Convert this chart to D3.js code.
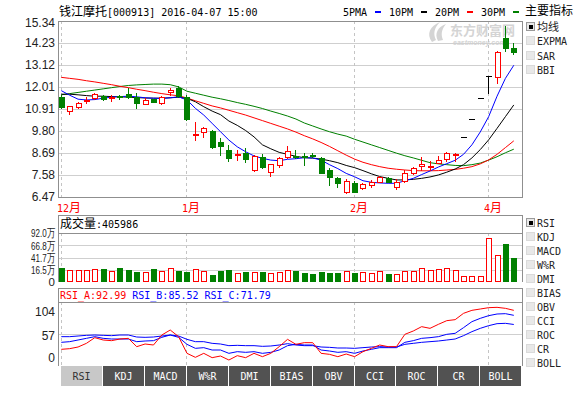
<!DOCTYPE html>
<html>
<head>
<meta charset="utf-8">
<script src="https://cdn.jsdelivr.net/npm/d3@7/dist/d3.min.js"></script>
<style>
html,body{margin:0;padding:0;background:#ffffff;}
svg{display:block;}
</style>
</head>
<body>
<svg id="chart" width="580" height="394"></svg>
<script>
// ---------------- data ----------------
const stockName = "钱江摩托";
const stockCode = "000913";
const stamp = "2016-04-07 15:00";
const dates = ["2015-12-11","2015-12-14","2015-12-15","2015-12-16","2015-12-17","2015-12-18","2015-12-21","2015-12-22","2015-12-23","2015-12-24","2015-12-25","2015-12-28","2015-12-29","2015-12-30","2015-12-31",
"2016-01-04","2016-01-05","2016-01-06","2016-01-07","2016-01-08","2016-01-11","2016-01-12","2016-01-13","2016-01-14","2016-01-15","2016-01-18","2016-01-19","2016-01-20","2016-01-21","2016-01-22","2016-01-25","2016-01-26","2016-01-27","2016-01-28","2016-01-29",
"2016-02-01","2016-02-02","2016-02-03","2016-02-04","2016-02-05","2016-02-15","2016-02-16","2016-02-17","2016-02-18","2016-02-19","2016-02-22","2016-02-23","2016-02-24",
"2016-03-29","2016-03-30","2016-03-31","2016-04-01","2016-04-05","2016-04-06","2016-04-07"];
const open  = [11.49,10.82,11.02,11.32,11.44,11.58,11.46,11.55,11.65,11.52,11.16,11.39,11.19,11.75,11.95,11.52,9.59,9.73,9.81,9.26,8.84,8.60,8.70,7.83,8.47,7.74,8.08,8.50,8.53,8.55,8.60,8.42,7.83,7.44,6.74,7.16,6.91,7.07,7.24,7.44,6.99,7.29,7.70,8.05,7.98,8.17,8.37,8.58,9.48,10.40,11.44,12.56,12.50,14.47,13.96];
const high  = [11.61,11.08,11.27,11.52,11.73,11.62,11.61,11.63,11.95,11.70,11.45,11.40,11.55,11.95,12.06,11.60,10.26,10.01,9.83,9.43,9.09,8.84,8.92,8.57,8.62,8.15,8.50,9.04,8.84,8.67,8.67,8.47,7.92,7.49,7.36,7.26,7.20,7.33,7.54,7.50,7.36,7.85,8.00,8.47,8.30,8.54,8.75,8.67,9.48,10.40,11.44,12.56,13.84,15.09,14.22];
const low   = [10.95,10.64,10.94,11.19,11.39,11.38,11.32,11.40,11.48,10.94,11.15,11.24,11.16,11.61,11.50,10.35,9.34,9.51,8.94,8.59,8.28,8.33,8.25,7.80,7.92,7.54,8.00,8.42,8.42,8.08,8.50,7.67,7.07,6.99,6.66,6.70,6.89,6.96,7.21,7.22,6.86,7.25,7.62,7.83,7.83,8.17,8.30,8.30,9.48,10.40,11.44,11.73,12.20,13.84,13.66];
const close = [11.02,11.06,11.19,11.37,11.66,11.41,11.50,11.50,11.52,11.19,11.36,11.26,11.52,11.86,11.56,10.40,9.67,9.96,8.97,9.04,8.42,8.65,8.37,8.54,7.97,8.13,8.45,8.79,8.48,8.52,8.58,7.70,7.49,7.16,7.29,6.74,7.12,7.24,7.49,7.24,7.21,7.70,7.92,8.12,8.03,8.33,8.67,8.62,9.48,10.40,11.44,12.56,13.79,13.96,13.79];
// volume in 万 shares
const volume = [21.7,17.1,17.1,17.1,19.7,19.1,15.7,21.1,17.1,13.0,13.7,19.1,15.1,21.1,15.1,13.7,18.5,15.1,7.0,15.1,17.1,11.6,13.7,13.7,13.7,10.4,13.7,17.1,15.7,11.6,9.0,13.7,11.6,11.6,15.1,11.6,12.4,10.4,15.1,9.0,8.4,15.1,15.7,20.5,17.1,19.1,20.5,17.1,5.0,5.0,5.0,81.3,47.5,69.7,40.6];
const ma5  = [11.83,11.60,11.40,11.36,11.38,11.45,11.50,11.53,11.55,11.52,11.47,11.45,11.44,11.47,11.52,11.36,10.94,10.60,10.18,9.76,9.34,9.00,8.75,8.54,8.42,8.33,8.30,8.37,8.40,8.45,8.44,8.33,8.10,7.90,7.66,7.49,7.29,7.21,7.18,7.16,7.16,7.29,7.41,7.60,7.78,7.98,8.15,8.32,8.62,9.10,9.75,10.52,11.55,12.45,13.11];
const ma10 = [11.65,11.65,11.62,11.58,11.55,11.55,11.53,11.52,11.50,11.48,11.46,11.45,11.45,11.47,11.50,11.44,11.27,11.02,10.80,10.62,10.30,10.08,9.82,9.50,9.10,8.90,8.72,8.62,8.52,8.45,8.43,8.38,8.30,8.20,8.06,7.95,7.80,7.64,7.50,7.41,7.33,7.33,7.36,7.41,7.48,7.58,7.72,7.88,8.10,8.44,8.86,9.35,9.93,10.52,11.11];
const ma20 = [12.50,12.45,12.40,12.33,12.27,12.20,12.13,12.05,11.98,11.90,11.83,11.75,11.68,11.62,11.57,11.46,11.32,11.19,11.06,10.96,10.84,10.72,10.60,10.46,10.32,10.18,10.04,9.90,9.74,9.56,9.40,9.22,9.02,8.80,8.58,8.38,8.22,8.10,8.00,7.92,7.87,7.83,7.80,7.79,7.79,7.80,7.83,7.86,7.92,8.00,8.14,8.34,8.62,8.96,9.30];
const ma30 = [11.62,11.68,11.74,11.80,11.86,11.92,11.98,12.04,12.09,12.12,12.14,12.16,12.16,12.13,12.02,11.80,11.70,11.60,11.50,11.42,11.33,11.23,11.14,11.04,10.93,10.80,10.68,10.55,10.40,10.20,10.05,9.90,9.76,9.64,9.54,9.38,9.24,9.10,8.96,8.82,8.68,8.55,8.44,8.32,8.20,8.14,8.10,8.06,8.05,8.10,8.18,8.33,8.50,8.70,8.88];
const rsiA = [34.5,35.5,38,43.5,52,48.5,47.5,50,51,38.5,42.5,41,56,63.5,53.5,28.5,22.5,28.5,22,24.5,18.5,25,22,28.5,23.5,28.5,38.5,49.5,42,44.5,44.5,28.5,27,23.5,27.5,23.5,31,36,41,38.5,38.5,57,62,68.5,66,72,77.5,79,88.5,93,95,97,97.5,96,92.99];
const rsiB = [45,46,48.5,51,53.5,51,50,50,50,46,47,47.5,52.5,56,52.5,42,36,37,33.5,33.5,28.5,31,30,31,28.5,30,33.5,40,42,41,41,33.5,32,30,31,28.5,32,34.5,37,37,37,45,47.5,51,52,53.5,57,58.5,67,76,81,85,87.5,88,85.52];
const rsiC = [53.5,53.5,54.5,55.5,56,55.5,55,56,56,53,52.5,53,54.5,56,54.5,49.5,46,46,43.5,42.5,40,40.5,40,40,39,39.5,41,43,41,40,40,38,37.5,36.5,36.5,36,37,38,38.5,38,38,42,43.5,45,46,47,48.5,50,55,61,66,70,73,73.5,71.79];
const lastVolume = 405986;
const priceTicks = [6.47, 7.58, 8.69, 9.80, 10.91, 12.01, 13.12, 14.23, 15.34];
const volTicks = [16.5, 41.7, 66.8, 92.0];
const volDomain = [-7.2, 92.0];
const rsiTicks = [0, 57, 104];
const rsiDomain = [11, 104];
const monthStarts = ["2015-12-11","2016-01-04","2016-02-01","2016-04-01"];
const monthLabels = ["12月","1月","2月","4月"];
const maLegend = ["5PMA","10PM","20PM","30PM"];
const mainIndicators = ["均线","EXPMA","SAR","BBI"];
const subIndicators = ["RSI","KDJ","MACD","W%R","DMI","BIAS","OBV","CCI","ROC","CR","BOLL"];
const tabs = ["RSI","KDJ","MACD","W%R","DMI","BIAS","OBV","CCI","ROC","CR","BOLL"];

// ---------------- style / layout ----------------
const MONO = "'DejaVu Sans Mono','Liberation Mono',monospace";
const CJK = "'Noto Sans CJK SC','Noto Sans',sans-serif";
const SANS = "'Liberation Sans',Arial,sans-serif";
const RED = "#ff0000", GREEN = "#008000", BLUE = "#0000ff", BLACK = "#000000";
const FRAME = "#8f8f8f", GRID = "#cfcfcf", DASH = "#c4c4c4";
const L = 58, R = 522;
const P = {top: 21, bot: 197};
const V = {top: 215, head: 233, bot: 282};
const S = {top: 288, head: 302, bot: 366};

const svg = d3.select("#chart");

const x = d3.scaleBand().domain(dates).range([57.6, 518.5]);
const xc = d => Math.round(x(d) + x.bandwidth() / 2);
const xl = d => x(d) + x.bandwidth() / 2 - 0.5;
const yP = d3.scaleLinear().domain([priceTicks[0], priceTicks[priceTicks.length - 1]]).range([P.bot, P.top]);
const yV = d3.scaleLinear().domain(volDomain).range([V.bot, V.head]);
const yR = d3.scaleLinear().domain(rsiDomain).range([S.bot - 1, S.head + 1]);

function mixed(g, xPos, yPos, str, fill, cjkSize) {
  const t = g.append("text").attr("x", xPos).attr("y", yPos).attr("fill", fill || "#000")
    .style("white-space", "pre");
  const runs = str.match(/[\x00-\x7F]+|[^\x00-\x7F]+/g) || [];
  runs.forEach(r => {
    const ascii = /^[\x00-\x7F]+$/.test(r);
    t.append("tspan").attr("font-family", ascii ? MONO : CJK).attr("font-size", ascii ? 10 : (cjkSize || 12)).text(r);
  });
  return t;
}
function hline(g, y, x1, x2, color, dash) {
  const ln = g.append("line").attr("x1", x1).attr("x2", x2).attr("y1", y).attr("y2", y)
    .attr("stroke", color).attr("shape-rendering", "crispEdges");
  if (dash) ln.attr("stroke-dasharray", dash);
  return ln;
}

// ---------------- header ----------------
const hdr = svg.append("g");
mixed(hdr, 59, 15.5, stockName + "[" + stockCode + "] " + stamp, "#000");
const legColors = [BLUE, BLACK, RED, GREEN];
maLegend.forEach((m, i) => {
  const x0 = 343 + i * 46;
  mixed(hdr, x0, 15.5, m, "#000");
  hdr.append("line").attr("x1", x0 + 32).attr("x2", x0 + 38).attr("y1", 12).attr("y2", 12)
    .attr("stroke", legColors[i]).attr("stroke-width", 2);
});
mixed(hdr, 525, 14.5, "主要指标", "#000");

// watermark
const wm = svg.append("g").attr("fill", "#d4d4d4");
wm.append("path").attr("d", "M432,42 C426,34 430,26 440,22 C434,28 433,34 436,40 Z M438,41 C434,33 438,27 446,24 C441,30 441,35 443,40 Z");
wm.append("text").attr("x", 450).attr("y", 34.8).attr("font-family", CJK).attr("font-size", 13)
  .attr("font-weight", "bold").text("东方财富网");
wm.append("text").attr("x", 453).attr("y", 45).attr("font-family", SANS).attr("font-size", 7)
  .attr("font-style", "italic").attr("font-weight", "bold").text("eastmoney.com");

// ---------------- main price panel ----------------
const gm = svg.append("g");
priceTicks.forEach((t, i) => {
  const yy = Math.round(yP(t)) + 0.5;
  if (i > 0 && i < priceTicks.length - 1) hline(gm, yy, L, R, GRID);
  gm.append("text").attr("x", 55).attr("y", Math.max(yP(t), 22.5) + 4.3).attr("text-anchor", "end")
    .attr("font-family", SANS).attr("font-size", 12).attr("fill", "#222").text(t.toFixed(2));
});
monthStarts.forEach(d => {
  const xx = xc(d) - 0.5;
  [[P.top, P.bot], [V.head, V.bot], [S.head, S.bot]].forEach(([a, b]) => {
    gm.append("line").attr("x1", xx).attr("x2", xx).attr("y1", a).attr("y2", b)
      .attr("stroke", DASH).attr("stroke-dasharray", "3,3").attr("shape-rendering", "crispEdges");
  });
});
monthLabels.forEach((lab, i) => {
  mixed(gm, xc(monthStarts[i]) - 5, 211.5, lab, RED);
});

// MA lines
const maSets = [[ma30, GREEN], [ma20, RED], [ma10, BLACK], [ma5, BLUE]];
maSets.forEach(([arr, color]) => {
  gm.append("path").datum(arr).attr("fill", "none").attr("stroke", color).attr("stroke-width", 1)
    .attr("d", d3.line().x((v, i) => xl(dates[i])).y(v => yP(v)));
});

// candles
const candles = dates.map((d, i) => ({d, o: open[i], h: high[i], l: low[i], c: close[i], v: volume[i]}));
const ccol = k => k.c > k.o ? RED : (k.c < k.o ? GREEN : BLACK);
const cg = gm.append("g").attr("shape-rendering", "crispEdges");
cg.selectAll("line.wick").data(candles).join("line").attr("class", "wick")
  .attr("x1", k => xc(k.d) - 0.5).attr("x2", k => xc(k.d) - 0.5)
  .attr("y1", k => Math.round(yP(k.h))).attr("y2", k => Math.round(yP(k.l)) + 1)
  .attr("stroke", ccol);
cg.selectAll("rect.up").data(candles.filter(k => k.c > k.o)).join("rect").attr("class", "up")
  .attr("x", k => xc(k.d) - 2.5).attr("y", k => Math.round(yP(k.c)) + 0.5)
  .attr("width", 5).attr("height", k => Math.max(Math.round(yP(k.o)) - Math.round(yP(k.c)), 1))
  .attr("fill", "#fff").attr("stroke", RED);
cg.selectAll("rect.dn").data(candles.filter(k => k.c < k.o)).join("rect").attr("class", "dn")
  .attr("x", k => xc(k.d) - 3).attr("y", k => Math.round(yP(k.o)))
  .attr("width", 6).attr("height", k => Math.max(Math.round(yP(k.c)) - Math.round(yP(k.o)), 1) + 1)
  .attr("fill", GREEN);
cg.selectAll("line.flat").data(candles.filter(k => k.c === k.o)).join("line").attr("class", "flat")
  .attr("x1", k => xc(k.d) - 3).attr("x2", k => xc(k.d) + 3)
  .attr("y1", k => Math.round(yP(k.o)) + 0.5).attr("y2", k => Math.round(yP(k.o)) + 0.5)
  .attr("stroke", BLACK);

gm.append("rect").attr("x", L + 0.5).attr("y", P.top + 0.5).attr("width", R - L).attr("height", P.bot - P.top)
  .attr("fill", "none").attr("stroke", FRAME).attr("shape-rendering", "crispEdges");

// ---------------- volume panel ----------------
const gv = svg.append("g");
volTicks.forEach((t, i) => {
  const yy = Math.round(yV(t)) + 0.5;
  if (i < volTicks.length - 1) hline(gv, yy, L, R, GRID);
  gv.append("text").attr("x", 55).attr("y", yV(t) + 4.2).attr("text-anchor", "end")
    .attr("textLength", 24).attr("lengthAdjust", "spacingAndGlyphs")
    .attr("font-family", SANS).attr("font-size", 11.5).attr("fill", "#222").text(t.toFixed(1) + "万");
});
gv.append("text").attr("x", 55).attr("y", V.bot + 3.8).attr("text-anchor", "end")
  .attr("font-family", SANS).attr("font-size", 11.5).attr("fill", "#222").text("0");
const vg = gv.append("g").attr("shape-rendering", "crispEdges");
vg.selectAll("rect.vu").data(candles.filter(k => k.c >= k.o)).join("rect").attr("class", "vu")
  .attr("x", k => xc(k.d) - 2.5).attr("y", k => Math.round(yV(k.v)) + 0.5)
  .attr("width", 5).attr("height", k => V.bot - Math.round(yV(k.v)) - 1)
  .attr("fill", "#fff").attr("stroke", RED);
vg.selectAll("rect.vd").data(candles.filter(k => k.c < k.o)).join("rect").attr("class", "vd")
  .attr("x", k => xc(k.d) - 3).attr("y", k => Math.round(yV(k.v)))
  .attr("width", 6).attr("height", k => V.bot - Math.round(yV(k.v)))
  .attr("fill", GREEN);
hline(gv, V.head + 0.5, L, R, FRAME);
gv.append("path").attr("d", `M${L + 0.5},${V.bot}V${V.top + 0.5}H${R + 0.5}V${V.bot}`)
  .attr("fill", "none").attr("stroke", FRAME).attr("shape-rendering", "crispEdges");
mixed(gv, 60, 228, "成交量:" + lastVolume, "#000");

// ---------------- RSI panel ----------------
const gr = svg.append("g");
hline(gr, Math.round(yR(57)) + 0.5, L, R, GRID);
gr.append("text").attr("x", 55).attr("y", S.head + 14).attr("text-anchor", "end")
  .attr("font-family", SANS).attr("font-size", 12).attr("fill", "#222").text(String(rsiTicks[2]));
gr.append("text").attr("x", 55).attr("y", yR(rsiTicks[1]) + 5.3).attr("text-anchor", "end")
  .attr("font-family", SANS).attr("font-size", 12).attr("fill", "#222").text(String(rsiTicks[1]));
gr.append("text").attr("x", 55).attr("y", S.bot - 4.5).attr("text-anchor", "end")
  .attr("font-family", SANS).attr("font-size", 12).attr("fill", "#222").text(String(rsiTicks[0]));
[[rsiC, BLUE], [rsiB, BLUE], [rsiA, RED]].forEach(([arr, color]) => {
  gr.append("path").datum(arr).attr("fill", "none").attr("stroke", color).attr("stroke-width", 1)
    .attr("d", d3.line().x((v, i) => xl(dates[i])).y(v => yR(v)));
});
hline(gr, S.head + 0.5, L, R, FRAME);
gr.append("path").attr("d", `M${L + 0.5},${S.bot}V${S.top + 0.5}H${R + 0.5}V${S.bot}`)
  .attr("fill", "none").attr("stroke", FRAME).attr("shape-rendering", "crispEdges");
const rh = gr.append("text").attr("x", 60).attr("y", 299).style("white-space", "pre")
  .attr("font-family", MONO).attr("font-size", 10);
rh.append("tspan").attr("fill", RED).text("RSI_A:" + rsiA[rsiA.length - 1].toFixed(2));
rh.append("tspan").attr("fill", BLUE).text(" RSI_B:" + rsiB[rsiB.length - 1].toFixed(2));
rh.append("tspan").attr("fill", BLUE).text(" RSI_C:" + rsiC[rsiC.length - 1].toFixed(2));

// ---------------- tabs ----------------
const gt = svg.append("g");
const tabW = (522.3 - 61) / tabs.length;
tabs.forEach((t, i) => {
  const x0 = Math.round(61 + i * tabW);
  const x1 = Math.round(61 + (i + 1) * tabW) - 1;
  gt.append("rect").attr("x", x0).attr("y", 366).attr("width", x1 - x0).attr("height", 20)
    .attr("fill", i === 0 ? "#c8c8c8" : "#525252").attr("shape-rendering", "crispEdges");
  gt.append("text").attr("x", (x0 + x1) / 2).attr("y", 379.5).attr("text-anchor", "middle")
    .attr("font-family", MONO).attr("font-size", 10).attr("fill", i === 0 ? "#333" : "#fff").text(t);
});

// ---------------- right side checklists ----------------
const gs = svg.append("g");
function checkbox(yTop, label, checked) {
  gs.append("rect").attr("x", 526.5).attr("y", yTop + 0.5).attr("width", 8).attr("height", 8)
    .attr("fill", "#e8e8e8").attr("stroke", checked ? "#9a9a9a" : "#dadada").attr("shape-rendering", "crispEdges");
  if (checked) gs.append("rect").attr("x", 529).attr("y", yTop + 3).attr("width", 4).attr("height", 4).attr("fill", "#000");
  mixed(gs, 537, yTop + 9, label, "#222", 11);
}
mainIndicators.forEach((m, i) => checkbox(Math.round(22 + i * 14.3), m, i === 0));
subIndicators.forEach((m, i) => checkbox(218 + i * 14, m, i === 0));
</script>
</body>
</html>
